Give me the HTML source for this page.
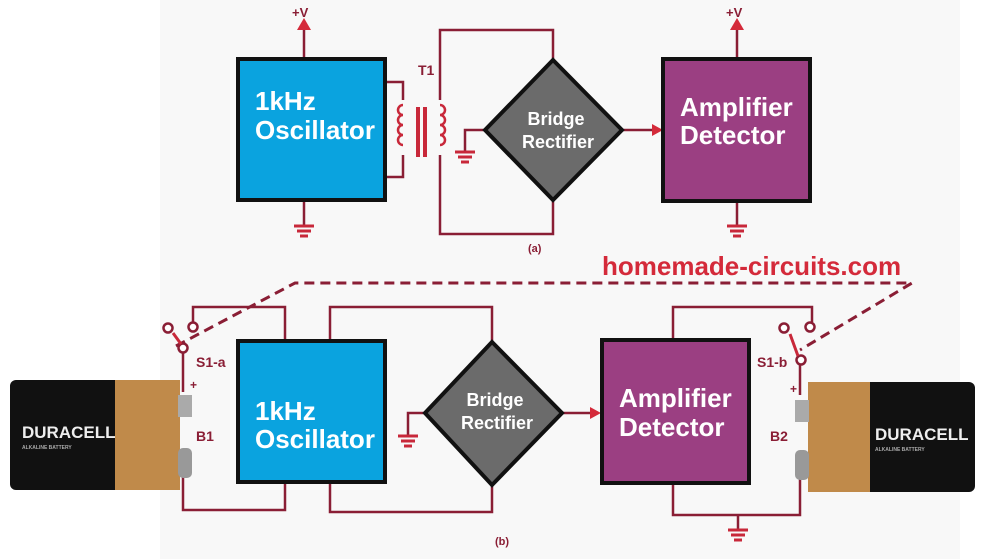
<!DOCTYPE html>
<html><head><meta charset="utf-8"><style>body{margin:0;background:#fff}svg{display:block}</style></head><body>
<svg width="984" height="559" viewBox="0 0 984 559" xmlns="http://www.w3.org/2000/svg" font-family="Liberation Sans, sans-serif" font-weight="bold">
<rect x="160" y="0" width="800" height="559" fill="#f8f8f8"/>
<g stroke="#8a1e35" stroke-width="2.5" fill="none">
<path d="M304 58V28M304 201V226"/>
<path d="M386 82H403V100M386 177H403V155"/>
<path d="M440 100V30H553V60M440 155V234H553V200"/>
<path d="M485 130H465V152"/>
<path d="M622 130H655"/>
<path d="M737 58V28M737 202V226"/>
<path d="M285 340V307H193V322M183 353V392M183 470V510H285V483"/>
<path d="M330 340V307H492V342M330 483V512H492V485"/>
<path d="M425 413H408V436M562 413H593"/>
<path d="M673 339V307H812V322M800 364V395M800 470V515H673V484M738 515V530"/>
</g>
<path d="M176 346L295 283H912L800 350" stroke="#8a1e35" stroke-width="3" stroke-dasharray="10,6" fill="none"/>
<g fill="#d42a3a">
<path d="M297 30L304 18L311 30Z"/><path d="M730 30L737 18L744 30Z"/>
<path d="M652 124L663 130L652 136Z"/><path d="M590 407L601 413L590 419Z"/>
</g>
<g stroke="#c8283a" stroke-width="3">
<path d="M294 226H314M297 231H311M300 236H308"/>
<path d="M727 226H747M730 231H744M733 236H741"/>
<path d="M455 152H475M458 157H472M461 162H469"/>
<path d="M398 436H418M401 441H415M404 446H412"/>
<path d="M728 530H748M731 535H745M734 540H742"/>
</g>
<g stroke="#c8283a" stroke-width="2.5" fill="none">
<path d="M403 105a5 5 0 0 0 0 10a5 5 0 0 0 0 10a5 5 0 0 0 0 10a5 5 0 0 0 0 10"/>
<path d="M440 105a5 5 0 0 1 0 10a5 5 0 0 1 0 10a5 5 0 0 1 0 10a5 5 0 0 1 0 10"/>
</g>
<rect x="416" y="107" width="4" height="50" fill="#c8283a"/><rect x="423" y="107" width="4" height="50" fill="#c8283a"/>
<text x="418" y="75" font-size="14" fill="#8a1e35">T1</text>
<rect x="238" y="59" width="147" height="141" fill="#0aa3df" stroke="#111" stroke-width="4"/>
<rect x="663" y="59" width="147" height="142" fill="#9b3f82" stroke="#111" stroke-width="4"/>
<rect x="238" y="341" width="147" height="141" fill="#0aa3df" stroke="#111" stroke-width="4"/>
<rect x="602" y="340" width="147" height="143" fill="#9b3f82" stroke="#111" stroke-width="4"/>
<polygon points="553,60 622,130 553,200 485,130" fill="#6b6b6b" stroke="#111" stroke-width="4"/>
<polygon points="492,342 562,413 492,485 425,413" fill="#6b6b6b" stroke="#111" stroke-width="4"/>
<g fill="#fff">
<text x="255" y="110" font-size="26">1kHz</text><text x="255" y="139" font-size="26">Oscillator</text>
<text x="255" y="420" font-size="26">1kHz</text><text x="255" y="448" font-size="26">Oscillator</text>
<text x="680" y="116" font-size="26">Amplifier</text><text x="680" y="144" font-size="26">Detector</text>
<text x="619" y="407" font-size="26">Amplifier</text><text x="619" y="436" font-size="26">Detector</text>
<text x="556" y="125" font-size="18" text-anchor="middle">Bridge</text><text x="558" y="148" font-size="18" text-anchor="middle">Rectifier</text>
<text x="495" y="406" font-size="18" text-anchor="middle">Bridge</text><text x="497" y="429" font-size="18" text-anchor="middle">Rectifier</text>
</g>
<g fill="#8a1e35">
<text x="292" y="17" font-size="13">+V</text><text x="726" y="17" font-size="13">+V</text>
<text x="528" y="252" font-size="11">(a)</text><text x="495" y="545" font-size="11">(b)</text>
<text x="196" y="367" font-size="14">S1-a</text><text x="190" y="389" font-size="12">+</text>
<text x="196" y="441" font-size="14">B1</text>
<text x="757" y="367" font-size="14">S1-b</text><text x="790" y="393" font-size="12">+</text>
<text x="770" y="441" font-size="14">B2</text>
</g>
<text x="602" y="275" font-size="26" fill="#d42a3a">homemade-circuits.com</text>
<g stroke="#8a1e35" stroke-width="2.5" fill="#fff">
<circle cx="168" cy="328" r="4.5"/><circle cx="193" cy="327" r="4.5"/><circle cx="183" cy="348" r="4.5"/>
<circle cx="784" cy="328" r="4.5"/><circle cx="810" cy="327" r="4.5"/><circle cx="801" cy="360" r="4.5"/>
</g>
<path d="M181 344L173 333" stroke="#c8283a" stroke-width="3"/>
<path d="M798 356L790 334" stroke="#c8283a" stroke-width="3"/>
<rect x="10" y="380" width="170" height="110" rx="6" fill="#111"/>
<rect x="115" y="380" width="65" height="110" fill="#c08a4a"/>
<rect x="178" y="395" width="14" height="22" fill="#aaa"/><rect x="178" y="448" width="14" height="30" rx="5" fill="#999"/>
<text x="22" y="438" font-size="17" fill="#eee">DURACELL</text>
<text x="22" y="449" font-size="5" fill="#aaa">ALKALINE BATTERY</text>
<rect x="808" y="382" width="167" height="110" rx="6" fill="#111"/>
<rect x="808" y="382" width="62" height="110" fill="#c08a4a"/>
<rect x="795" y="400" width="14" height="22" fill="#aaa"/><rect x="795" y="450" width="14" height="30" rx="5" fill="#999"/>
<text x="875" y="440" font-size="17" fill="#eee">DURACELL</text>
<text x="875" y="451" font-size="5" fill="#aaa">ALKALINE BATTERY</text>
</svg>
</body></html>
